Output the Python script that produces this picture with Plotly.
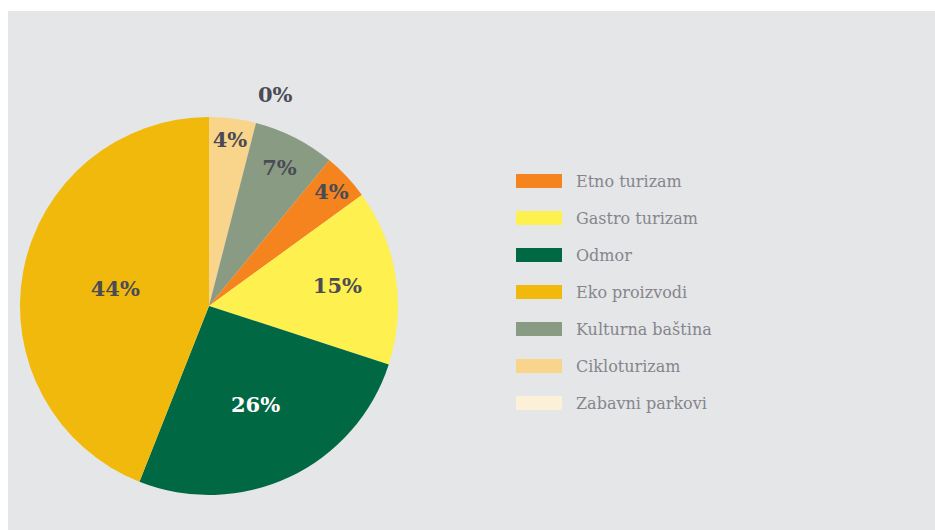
import plotly.graph_objects as go

# slices in clockwise order from 12 o'clock
pie_labels = ["Cikloturizam", "Kulturna baština", "Etno turizam", "Gastro turizam",
              "Odmor", "Eko proizvodi", "Zabavni parkovi"]
pie_values = [4, 7, 4, 15, 26, 44, 0]

# legend order
legend_labels = ["Etno turizam", "Gastro turizam", "Odmor", "Eko proizvodi",
                 "Kulturna baština", "Cikloturizam", "Zabavni parkovi"]

colors = {
    "Etno turizam": "#f5841f",
    "Gastro turizam": "#fef04e",
    "Odmor": "#006843",
    "Eko proizvodi": "#f0b90b",
    "Kulturna baština": "#8a9b84",
    "Cikloturizam": "#f9d48b",
    "Zabavni parkovi": "#fdf0d8",
}

W, H = 935, 530
label_col = "#4b4b55"


def px(x):
    return x / W


def py(y):
    return 1 - y / H


fig = go.Figure(go.Pie(
    labels=pie_labels,
    values=pie_values,
    sort=False,
    direction="clockwise",
    rotation=0,
    marker=dict(colors=[colors[l] for l in pie_labels], line=dict(width=0)),
    texttemplate=["<b>%{value}%</b>" if v > 0 else "" for v in pie_values],
    textposition="inside",
    insidetextorientation="horizontal",
    textfont=dict(family="DejaVu Serif", size=21,
                  color=["white" if l == "Odmor" else label_col for l in pie_labels]),
    showlegend=False,
    hoverinfo="label+value",
    domain=dict(x=[px(20), px(398)], y=[py(495), py(117)]),
))

# zero-value slice label sits above the pie
fig.add_annotation(x=px(275), y=py(95), xref="paper", yref="paper",
                   xanchor="center", yanchor="middle",
                   text="<b>%d%%</b>" % pie_values[-1], showarrow=False,
                   font=dict(family="DejaVu Serif", size=21, color=label_col))

# grey panel
fig.add_shape(type="rect", xref="paper", yref="paper", x0=px(8), x1=1, y0=0, y1=py(11),
              fillcolor="#e5e6e8", line=dict(width=0), layer="below")

# hand-made legend with wide swatches
for i, name in enumerate(legend_labels):
    yc = 181 + i * 37
    fig.add_shape(type="rect", xref="paper", yref="paper",
                  x0=px(516), x1=px(562), y0=py(yc + 7), y1=py(yc - 7),
                  fillcolor=colors[name], line=dict(width=0))
    fig.add_annotation(x=px(574), y=py(yc), xref="paper", yref="paper",
                       text=name, showarrow=False, xanchor="left", yanchor="middle",
                       font=dict(family="DejaVu Serif", size=16, color="#85858c"))

fig.update_layout(
    width=W, height=H,
    margin=dict(l=0, r=0, t=0, b=0),
    paper_bgcolor="white",
    plot_bgcolor="white",
    uniformtext=dict(minsize=21, mode="show"),
)

# drop the browser's default body margin so the figure fills the window
fig.write_html("out.html", config={"displayModeBar": False},
               post_script="document.body.style.margin = '0';")
